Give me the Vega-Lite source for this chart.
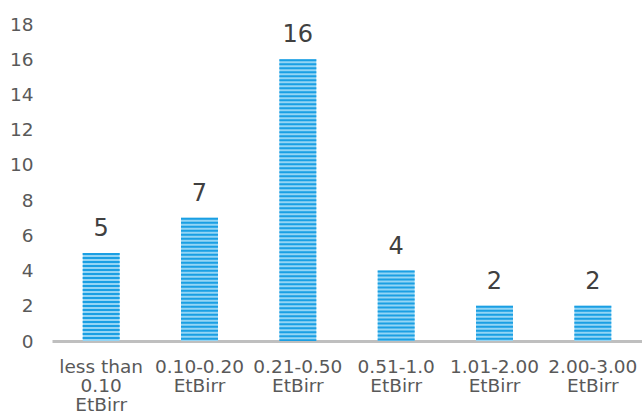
{
  "$schema": "https://vega.github.io/schema/vega-lite/v6.json",
  "width": 590,
  "height": 317,
  "autosize": {"type": "none"},
  "padding": {"left": 52, "top": 24, "right": 0, "bottom": 78},
  "background": "white",
  "config": {
    "view": {"stroke": null},
    "font": "DejaVu Sans"
  },
  "data": {
    "values": [
      {"range": "less than 0.10 EtBirr", "count": 5},
      {"range": "0.10-0.20 EtBirr", "count": 7},
      {"range": "0.21-0.50 EtBirr", "count": 16},
      {"range": "0.51-1.0 EtBirr", "count": 4},
      {"range": "1.01-2.00 EtBirr", "count": 2},
      {"range": "2.00-3.00 EtBirr", "count": 2}
    ]
  },
  "encoding": {
    "x": {
      "field": "range",
      "type": "nominal",
      "sort": null,
      "title": null,
      "scale": {"paddingInner": 0.625, "paddingOuter": 0.3125},
      "axis": {
        "labelAngle": 0,
        "ticks": false,
        "domainColor": "#bfbfbf",
        "domainWidth": 3,
        "labelColor": "#595959",
        "labelFontSize": 18.5,
        "labelLineHeight": 19,
        "labelPadding": 16,
        "labelExpr": "datum.value == 'less than 0.10 EtBirr' ? ['less than', '0.10', 'EtBirr'] : split(datum.value, ' ')"
      }
    },
    "y": {
      "field": "count",
      "type": "quantitative",
      "title": null,
      "scale": {"domain": [0, 18], "nice": false},
      "axis": {
        "values": [0, 2, 4, 6, 8, 10, 12, 14, 16, 18],
        "domain": false,
        "ticks": false,
        "grid": false,
        "labelColor": "#595959",
        "labelFontSize": 18.5,
        "labelPadding": 19
      }
    }
  },
  "layer": [
    {"mark": {"type": "bar", "color": "#93d5f5"}},
    {
      "mark": {
        "type": "rule",
        "color": "#1a9fe3",
        "strokeWidth": 37,
        "strokeDash": [2, 2],
        "strokeCap": "butt"
      },
      "encoding": {"y2": {"datum": 0}}
    },
    {
      "mark": {
        "type": "text",
        "fontSize": 24,
        "color": "#404040",
        "baseline": "alphabetic",
        "dy": -17
      },
      "encoding": {"text": {"field": "count", "type": "quantitative"}}
    }
  ]
}
